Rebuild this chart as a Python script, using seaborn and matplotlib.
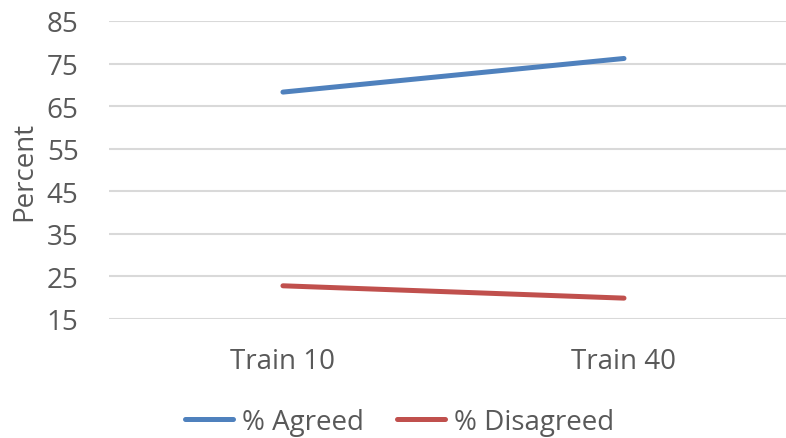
import matplotlib
matplotlib.use("Agg")
import matplotlib.pyplot as plt
import seaborn as sns
import pandas as pd

categories = ["Train 10", "Train 40"]
agreed = [68.3, 76.2]
disagreed = [22.8, 19.9]
series_names = ["% Agreed", "% Disagreed"]
y_ticks = [15, 25, 35, 45, 55, 65, 75, 85]

df = pd.DataFrame({
    "Group": categories * 2,
    "Percent": agreed + disagreed,
    "Series": [series_names[0]] * 2 + [series_names[1]] * 2,
})
df["x"] = df["Group"].map({c: i for i, c in enumerate(categories)})

sns.set_theme(style="white")
plt.rcParams["font.family"] = ["Open Sans", "DejaVu Sans"]
text_color = "#595959"
fs = 20

fig = plt.figure(figsize=(7.86, 4.39), dpi=100)
ax = fig.add_axes([109 / 786, (439 - 320) / 439, 1 - 109 / 786, (320 - 22) / 439])

sns.lineplot(data=df, x="x", y="Percent", hue="Series",
             palette={series_names[0]: "#4F81BD", series_names[1]: "#C0504D"},
             linewidth=3.6, ax=ax, legend=True)
for line in ax.get_lines():
    line.set_solid_capstyle("round")

ax.set_xlim(-0.51, 1.475)
ax.set_ylim(15, 85)
ax.set_yticks(y_ticks)
ax.set_xticks(range(len(categories)))
ax.set_xticklabels(categories)
ax.yaxis.grid(True, color="#D9D9D9", linewidth=1.5)
ax.xaxis.grid(False)
ax.set_axisbelow(True)
for s in ax.spines.values():
    s.set_visible(False)
ax.tick_params(axis="both", length=0, labelsize=fs, colors=text_color)
ax.tick_params(axis="y", pad=22)
ax.tick_params(axis="x", pad=20)
ax.set_xlabel("")
ax.set_ylabel("Percent", fontsize=fs, color=text_color, labelpad=6)

handles, labels = ax.get_legend_handles_labels()
for h in handles:
    h.set_solid_capstyle("round")
ax.legend(handles, labels, loc="lower center", bbox_to_anchor=(0.508, -0.02),
          bbox_transform=fig.transFigure, ncol=2, frameon=False,
          fontsize=fs, labelcolor=text_color, handlelength=1.75,
          handletextpad=0.3, columnspacing=1.2, borderaxespad=0.0)

fig.savefig("out.png", dpi=100)
